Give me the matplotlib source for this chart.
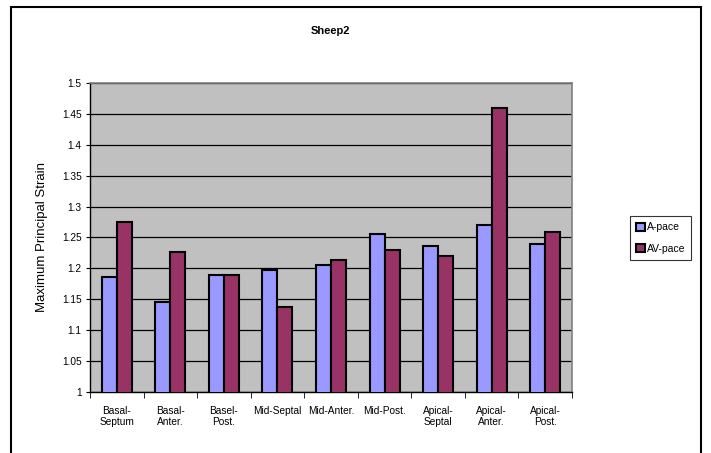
import matplotlib
matplotlib.use('Agg')
import matplotlib.pyplot as plt
from matplotlib.patches import Rectangle
import numpy as np

plt.rcParams['font.family'] = ['Liberation Sans', 'DejaVu Sans']

categories = ['Basal-\nSeptum', 'Basal-\nAnter.', 'Basel-\nPost.', 'Mid-Septal', 'Mid-Anter.',
              'Mid-Post.', 'Apical-\nSeptal', 'Apical-\nAnter.', 'Apical-\nPost.']
a_pace = [1.186, 1.145, 1.189, 1.197, 1.205, 1.255, 1.237, 1.271, 1.240]
av_pace = [1.275, 1.227, 1.189, 1.137, 1.214, 1.229, 1.220, 1.460, 1.259]

fig = plt.figure(figsize=(7.11, 4.53), dpi=100)
ax = fig.add_axes([0.1266, 0.1347, 0.6779, 0.6821])

# outer chart frame
fig.patches.append(Rectangle((0.0155, -0.01), 0.971, 0.9945, transform=fig.transFigure,
                             fill=False, edgecolor='black', linewidth=1.5))

x = np.arange(len(categories))
w = 0.28
ax.bar(x - w / 2, a_pace, w, color='#9999FF', edgecolor='black', linewidth=1.5,
       label='A-pace', zorder=3)
ax.bar(x + w / 2, av_pace, w, color='#993366', edgecolor='black', linewidth=1.5,
       label='AV-pace', zorder=3)

ax.set_facecolor('#C0C0C0')
ax.set_ylim(1, 1.5)
ax.set_xlim(-0.5, len(categories) - 0.5)
ax.set_yticks(np.arange(1, 1.501, 0.05))
ax.set_yticklabels(['1', '1.05', '1.1', '1.15', '1.2', '1.25', '1.3', '1.35', '1.4', '1.45', '1.5'])
ax.yaxis.grid(True, color='black', linewidth=0.9, zorder=1)
ax.set_axisbelow(True)

ax.set_xticks(x)
ax.set_xticklabels(categories, fontsize=7.3)
ax.set_xticks(np.arange(-0.5, len(categories)), minor=True)
ax.tick_params(axis='x', which='major', length=0, pad=10)
ax.tick_params(axis='x', which='minor', length=4, direction='out', color='black')
ax.tick_params(axis='y', labelsize=7.3, length=3, direction='out', pad=3)

for s in ['top', 'right']:
    ax.spines[s].set_color('#808080')
    ax.spines[s].set_linewidth(1.2)
for s in ['left', 'bottom']:
    ax.spines[s].set_color('black')
    ax.spines[s].set_linewidth(1.0)

ax.set_ylabel('Maximum Principal Strain', fontsize=9.5, labelpad=10)
fig.text(0.4655, 0.932, 'Sheep2', ha='center', va='center', fontsize=8, fontweight='bold')

leg = fig.legend(loc='upper left', bbox_to_anchor=(0.886, 0.523), fontsize=7.5, frameon=True,
                 fancybox=False, edgecolor='black', handlelength=0.8, handleheight=0.8,
                 handletextpad=0.2, borderpad=0.6, labelspacing=1.1, borderaxespad=0)
leg.get_frame().set_linewidth(0.8)

fig.savefig('out.png', dpi=100)
